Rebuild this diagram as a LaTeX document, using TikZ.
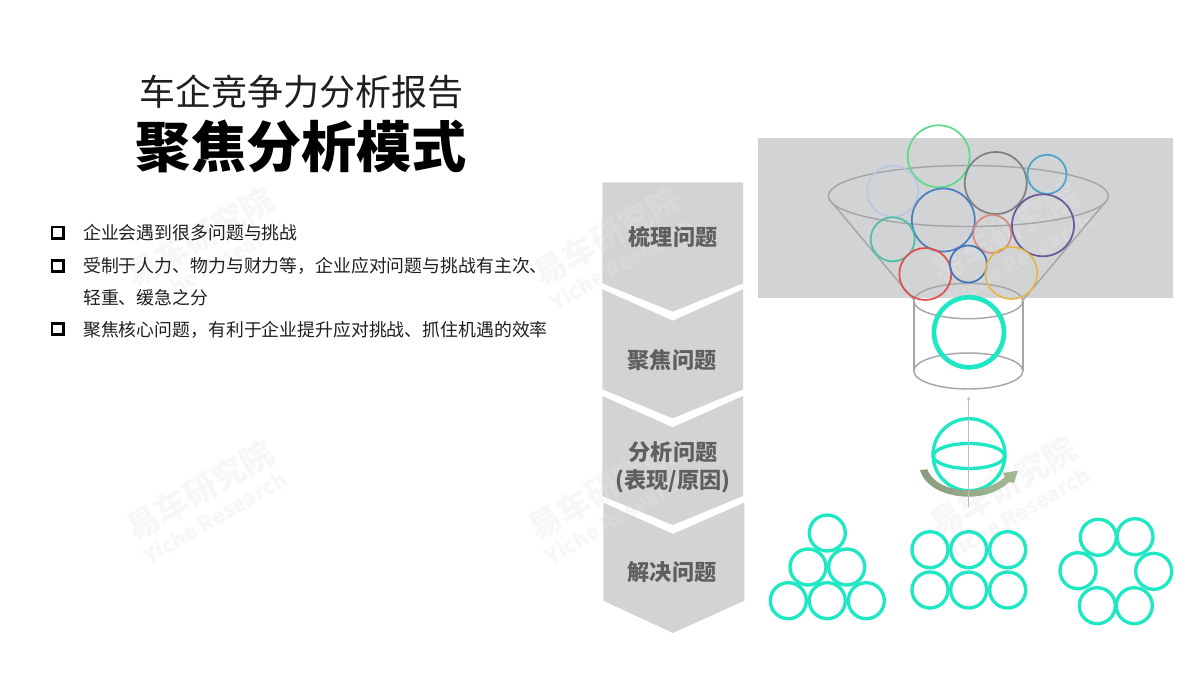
\documentclass[tikz,border=0pt]{standalone}
\usepackage{fontspec}
\setmainfont{Noto Sans CJK SC}
\usetikzlibrary{calc,arrows.meta}
\definecolor{panel}{HTML}{D1D3D4}
\definecolor{teal}{HTML}{1EE8C4}
\definecolor{wire}{HTML}{A4A6A9}
\definecolor{stepink}{HTML}{5E5F61}
\definecolor{axisgray}{HTML}{B8BBC2}
\definecolor{arrowl}{HTML}{8A9A80}
\definecolor{arrowm}{HTML}{9A9B9A}
\definecolor{arrowr}{HTML}{A3BA92}
\definecolor{cgreen}{HTML}{5FD98A}
\definecolor{cgray}{HTML}{7F8082}
\definecolor{csky}{HTML}{4BA3CF}
\definecolor{cpale}{HTML}{B9C7E0}
\definecolor{cblue}{HTML}{4A7FBF}
\definecolor{csalmon}{HTML}{D98A80}
\definecolor{cpurple}{HTML}{6A5A9A}
\definecolor{cteal}{HTML}{4DBFA8}
\definecolor{cred}{HTML}{E05050}
\definecolor{cmid}{HTML}{3F78B8}
\definecolor{cyellow}{HTML}{E5B84B}
\tikzset{
  x=0.75pt,y=-0.75pt,
  chev/.style={fill=panel,draw=none},
  steplabel/.style={font=\bfseries\fontsize{16.6}{21}\selectfont,text=stepink,align=center,inner sep=0pt},
  bul/.style={font=\fontsize{13.4}{16}\selectfont,text=black!88,anchor=west,inner sep=0pt},
  bulmark/.style={draw=black,line width=2pt,fill=white,minimum size=8.5pt,inner sep=0pt,rectangle},
  wm/.style={text=black!10,opacity=0.3,inner sep=0pt,rotate=30},
  wmcn/.style={wm,font=\bfseries\fontsize{24.5}{28}\selectfont},
  wmen/.style={wm,font=\bfseries\fontsize{16}{18}\selectfont},
  wireline/.style={draw=wire,line width=1.1pt},
  ring/.style={line width=1.3pt},
  tealthin/.style={draw=teal,line width=2.5pt},
}
\newcommand{\wmark}[3]{%
  \node[wmcn] (wa#3) at (#1,#2) {易车研究院};
  \node[wmen] (wb#3) at ($(#1,#2)+(15,27)$) {Yiche Research};
}
\begin{document}
\begin{tikzpicture}
\useasboundingbox (0,0) rectangle (1200,675);
\fill[white] (0,0) rectangle (1200,675);

% panel and chevrons
\fill[panel] (758,137.7) rectangle (1172.7,297.7);
\fill[chev] (602.3,182.3) -- (743,182.3) -- (743,283.3) -- (672.7,311.7) -- (602.3,283.3) -- cycle;
\fill[chev] (602.3,289.3) -- (672.7,320.7) -- (743,289.3) -- (743,389.3) -- (672.7,418.3) -- (602.3,389.3) -- cycle;
\fill[chev] (602.3,396) -- (672.7,427.3) -- (743,396) -- (743,496) -- (672.7,525) -- (602.3,496) -- cycle;
\fill[chev] (603.3,502.7) -- (673,534) -- (744.3,502.7) -- (744.3,600.7) -- (673,633) -- (603.3,600.7) -- cycle;

% watermarks
\wmark{200}{237}{1}
\wmark{607}{236}{2}
\wmark{1005}{232}{3}
\wmark{200}{490}{4}
\wmark{602}{490}{5}
\wmark{1003}{486}{6}

% title
\node[font=\fontsize{27}{30}\selectfont,text=black!88,inner sep=0pt] (t1) at (301,92) {车企竞争力分析报告};
\node[font=\bfseries\fontsize{41.4}{46}\selectfont,text=black,inner sep=0pt] (t2) at (301.5,146) {聚焦分析模式};

% bullets
\node[bulmark] (m1) at (57.5,232.5) {};
\node[bulmark] (m2) at (57.5,266) {};
\node[bulmark] (m3) at (57.5,329) {};
\node[bul] (b1) at (83,233) {企业会遇到很多问题与挑战};
\node[bul] (b2) at (83,266) {受制于人力、物力与财力等，企业应对问题与挑战有主次、};
\node[bul] (b2b) at (83,298) {轻重、缓急之分};
\node[bul] (b3) at (83,330) {聚焦核心问题，有利于企业提升应对挑战、抓住机遇的效率};

% step labels
\node[steplabel] (s1) at (673,237.5) {梳理问题};
\node[steplabel] (s2) at (672,360.5) {聚焦问题};
\node[steplabel] (s3) at (673,467) {分析问题\\(表现/原因)};
\node[steplabel] (s4) at (672,572) {解决问题};

% funnel
\draw[wireline] (968.3,196) ellipse (140 and 30.5);
\draw[wireline] (829,199) -- (914,300);
\draw[wireline] (1108,199) -- (1023,300);
\draw[wireline] (968.3,301) ellipse (54.5 and 17.7);
\draw[wireline] (914,301) -- (914,371);
\draw[wireline] (1023,301) -- (1023,371);
\draw[wireline] (968.3,371) ellipse (54.5 and 18);

% coloured circles
\draw[ring,draw=cgreen] (938.7,156.3) circle (31);
\draw[ring,draw=cgray] (995.7,183) circle (31);
\draw[ring,draw=csky] (1047,174.3) circle (19.5);
\draw[ring,draw=cpale] (892.7,191.3) circle (25.5);
\draw[ring,draw=cblue] (943.3,220) circle (31.5);
\draw[ring,draw=csalmon] (992.3,234) circle (19);
\draw[ring,draw=cpurple] (1043,225.3) circle (31);
\draw[ring,draw=cteal] (892.7,239.3) circle (22);
\draw[ring,draw=cred] (925.3,274) circle (26);
\draw[ring,draw=cmid] (968.3,264) circle (18.5);
\draw[ring,draw=cyellow] (1011.3,273) circle (26);
\draw[draw=teal,line width=3.5pt] (969,332.3) circle (35);

% rotating sphere
\draw[tealthin] (969,454.7) circle (36);
\draw[tealthin] (969,456) ellipse (35.5 and 12.5);
\shade[left color=arrowl,middle color=arrowm,right color=arrowr]
  (920,470) .. controls (925,488) and (948,496.7) .. (968.3,496.7)
  .. controls (985,496.7) and (1000,491) .. (1009,482)
  -- (1014,483) -- (1018,470.5) -- (1003,473) -- (1005,477)
  .. controls (995,486) and (982,490) .. (968.3,490)
  .. controls (950,490) and (933,484) .. (927.3,469.3) -- cycle;
\coordinate (axisTop) at (968.7,396);
\coordinate (axisBottom) at (968.7,506.7);
\draw[draw=axisgray,line width=1pt,-{Latex[length=3pt,width=2.5pt]}] (axisBottom) -- (axisTop);

% triangle cluster
\foreach \p/\q in {827.3/533,808/567,846.7/567,788.3/600.7,827.3/600.7,866.3/600.7}
  \draw[tealthin] (\p,\q) circle (18);
% grid cluster
\foreach \p/\q in {930/549.7,968.7/549.7,1007.7/549.7,930/590,968.7/590,1007.7/590}
  \draw[tealthin] (\p,\q) circle (18);
% ring cluster
\foreach \p/\q in {1098.3/537.3,1135/536.7,1078/570.7,1153.7/571.3,1097.3/605.7,1134.3/605.7}
  \draw[tealthin] (\p,\q) circle (18);
\end{tikzpicture}
\end{document}
